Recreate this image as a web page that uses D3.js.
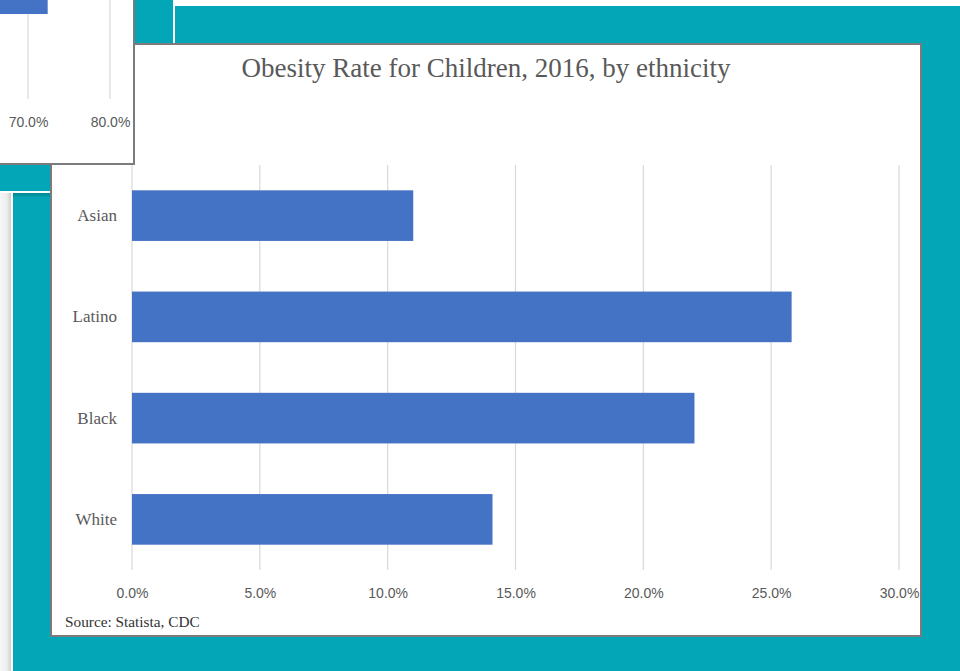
<!DOCTYPE html>
<html>
<head>
<meta charset="utf-8">
<script src="https://cdn.jsdelivr.net/npm/d3@7"></script>
<style>
  html, body { margin: 0; padding: 0; background: #02a6b6; }
  svg { display: block; }
</style>
</head>
<body>
<script>
// Main chart data
const categories = ["Asian", "Latino", "Black", "White"];
const rates = [11.0, 25.8, 22.0, 14.1];
const tickValues = [0, 5, 10, 15, 20, 25, 30];
const title = "Obesity Rate for Children, 2016, by ethnicity";
const source = "Source: Statista, CDC";

// Partly hidden slide behind (only its right edge shows)
const backTicks = [70, 80];
const backValues = [72.4];

const W = 960, H = 671;
const teal = "#02a6b6";
const barColor = "#4472c4";
const gridColor = "#d9d9d9";
const textColor = "#595959";
const borderColor = "#7b7b7b";

const svg = d3.select("body").append("svg")
  .attr("width", W).attr("height", H);

svg.append("rect").attr("width", W).attr("height", H).attr("fill", teal);

// slide edges around the frame
svg.append("rect").attr("x", 174).attr("y", 0).attr("width", W - 174).attr("height", 6).attr("fill", "#fff");
svg.append("rect").attr("x", 173).attr("y", 0).attr("width", 2).attr("height", 44).attr("fill", "#fff");

const defs = svg.append("defs");
const grad = defs.append("linearGradient").attr("id", "edge").attr("x1", 0).attr("x2", 1);
grad.append("stop").attr("offset", "0%").attr("stop-color", "#f6f6f6");
grad.append("stop").attr("offset", "60%").attr("stop-color", "#eeeeee");
grad.append("stop").attr("offset", "100%").attr("stop-color", "#cfcfcf");
svg.append("rect").attr("x", 0).attr("y", 193).attr("width", 11).attr("height", H - 193).attr("fill", "url(#edge)");
svg.append("rect").attr("x", 11).attr("y", 193).attr("width", 2).attr("height", H - 193).attr("fill", "#fafafa");
svg.append("rect").attr("x", 0).attr("y", 191).attr("width", 51).attr("height", 2).attr("fill", "#ffffff");
const shade = defs.append("linearGradient").attr("id", "shade").attr("x1", 0).attr("x2", 0).attr("y1", 0).attr("y2", 1);
shade.append("stop").attr("offset", "0%").attr("stop-color", "#000").attr("stop-opacity", 0.18);
shade.append("stop").attr("offset", "100%").attr("stop-color", "#000").attr("stop-opacity", 0);
svg.append("rect").attr("x", 13).attr("y", 193).attr("width", 38).attr("height", 5).attr("fill", "url(#shade)");

// ---- main chart card ----
const card = { x: 51, y: 44, w: 870, h: 592 };
svg.append("rect")
  .attr("x", card.x).attr("y", card.y).attr("width", card.w).attr("height", card.h)
  .attr("fill", "#fff").attr("stroke", borderColor).attr("stroke-width", 2);

const plotTop = 165, plotBottom = 570;
const x = d3.scaleLinear().domain([0, 30]).range([132, 899]);
const y = d3.scaleBand().domain(categories).range([plotTop, plotBottom])
  .paddingInner(0.5).paddingOuter(0.25);

// vertical gridlines
svg.append("g").selectAll("line").data(tickValues).join("line")
  .attr("x1", d => x(d)).attr("x2", d => x(d))
  .attr("y1", plotTop).attr("y2", plotBottom)
  .attr("stroke", gridColor).attr("stroke-width", 1.2);

// bars
svg.append("g").selectAll("rect").data(categories).join("rect")
  .attr("x", x(0))
  .attr("y", d => y(d))
  .attr("width", (d, i) => x(rates[i]) - x(0))
  .attr("height", y.bandwidth())
  .attr("fill", barColor);

// x axis labels
const xAxis = d3.axisBottom(x).tickValues(tickValues).tickSize(0).tickPadding(0)
  .tickFormat(d => d.toFixed(1) + "%");
const gx = svg.append("g").attr("transform", `translate(0,${588})`).call(xAxis);
gx.select(".domain").remove();
gx.selectAll("text")
  .attr("font-family", "'Liberation Sans', Arial, sans-serif")
  .attr("font-size", 14).attr("fill", textColor);

// category labels
const yAxis = d3.axisLeft(y).tickSize(0).tickPadding(0);
const gy = svg.append("g").attr("transform", `translate(117,0)`).call(yAxis);
gy.select(".domain").remove();
gy.selectAll("text")
  .attr("font-family", "'Liberation Serif', 'Times New Roman', serif")
  .attr("font-size", 17).attr("fill", textColor);

// title
svg.append("text")
  .attr("x", card.x + card.w / 2).attr("y", 77)
  .attr("text-anchor", "middle")
  .attr("font-family", "'Liberation Serif', 'Times New Roman', serif")
  .attr("font-size", 27).attr("fill", textColor)
  .text(title);

// source note
svg.append("text")
  .attr("x", 65).attr("y", 627)
  .attr("font-family", "'Liberation Serif', 'Times New Roman', serif")
  .attr("font-size", 15.3).attr("fill", "#333")
  .text(source);

// ---- overlapping slide in the top-left corner ----
const back = svg.append("g");
back.append("rect")
  .attr("x", -4).attr("y", -4).attr("width", 138).attr("height", 168)
  .attr("fill", "#fff").attr("stroke", borderColor).attr("stroke-width", 2);

const bx = d3.scaleLinear().domain([70, 80]).range([28, 110]);
back.selectAll("line").data(backTicks).join("line")
  .attr("x1", d => bx(d)).attr("x2", d => bx(d))
  .attr("y1", 0).attr("y2", 99)
  .attr("stroke", gridColor).attr("stroke-width", 1.2);
back.selectAll("rect.bar").data(backValues).join("rect")
  .attr("class", "bar")
  .attr("x", bx(0)).attr("y", 0)
  .attr("width", d => bx(d) - bx(0)).attr("height", 14)
  .attr("fill", barColor);
const bAxis = d3.axisBottom(bx).tickValues(backTicks).tickSize(0).tickPadding(0)
  .tickFormat(d => d.toFixed(1) + "%");
const gb = back.append("g").attr("transform", "translate(0,117)").call(bAxis);
gb.select(".domain").remove();
gb.selectAll("text")
  .attr("font-family", "'Liberation Sans', Arial, sans-serif")
  .attr("font-size", 14).attr("fill", textColor);
</script>
</body>
</html>
